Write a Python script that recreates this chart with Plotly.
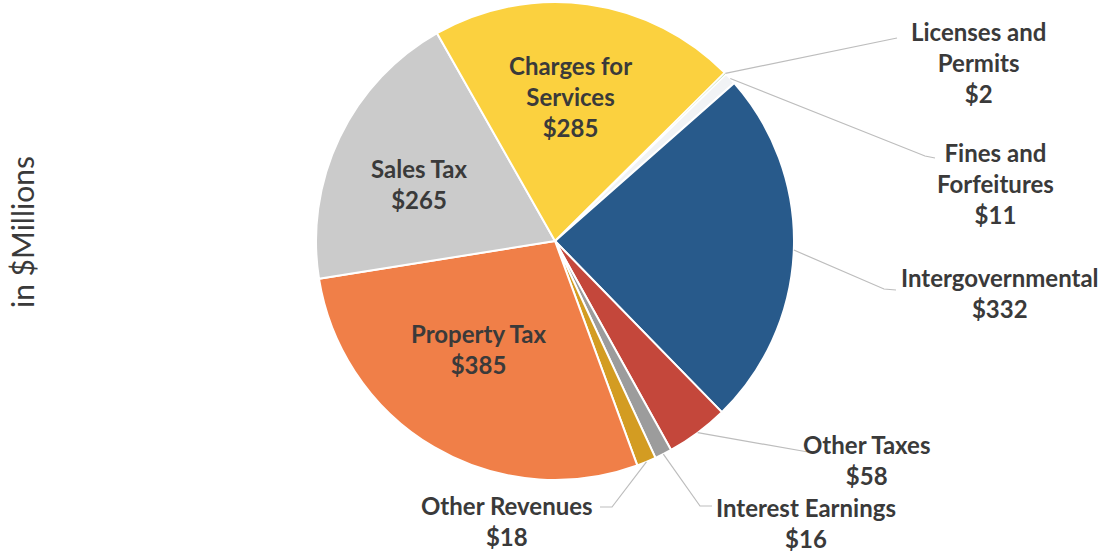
import math
import plotly.graph_objects as go

# Revenue sources, in $ millions, listed clockwise from the top-right
labels = ["Licenses and Permits", "Fines and Forfeitures", "Intergovernmental",
          "Other Taxes", "Interest Earnings", "Other Revenues",
          "Property Tax", "Sales Tax", "Charges for Services"]
values = [2, 11, 332, 58, 16, 18, 385, 265, 285]
label_lines = ["Licenses and<br>Permits", "Fines and<br>Forfeitures", "Intergovernmental",
               "Other Taxes", "Interest Earnings", "Other Revenues",
               "Property Tax", "Sales Tax", "Charges for<br>Services"]
colors = ["#6FB043", "#F1F3F5", "#285A8B", "#C4473B", "#9C9C9C",
          "#D39C22", "#F07F48", "#CBCBCB", "#FBD13F"]
border_widths = [1, 2, 2, 2, 2, 2, 2, 2, 2]

W, H = 1112, 552
CX, CY, R = 555, 241, 239          # pie centre and radius in pixels
ROTATION = 45.2                    # start angle of first slice, clockwise from 12 o'clock

# label block centres (px) and leader-line waypoints for outside labels
label_pos = {
    "Licenses and Permits": (978, 63),
    "Fines and Forfeitures": (995, 183),
    "Intergovernmental": (1000, 293),
    "Other Taxes": (866, 460),
    "Interest Earnings": (806, 523),
    "Other Revenues": (507, 521),
    "Property Tax": (478, 349),
    "Sales Tax": (419, 184),
    "Charges for Services": (570, 96),
}
leader_pts = {
    "Licenses and Permits": [(897, 38)],
    "Fines and Forfeitures": [(925, 156), (935, 158)],
    "Intergovernmental": [(884, 289), (896, 290)],
    "Other Taxes": [(808, 452)],
    "Interest Earnings": [(700, 506), (712, 506)],
    "Other Revenues": [(612, 507), (600, 507)],
}


def px(x, y):
    return x / W, 1 - y / H


fig = go.Figure(go.Pie(
    labels=labels,
    values=values,
    sort=False,
    direction="clockwise",
    rotation=ROTATION,
    marker=dict(colors=colors, line=dict(color="white", width=border_widths)),
    textinfo="none",
    hoverinfo="label+value",
    showlegend=False,
    domain=dict(x=[(CX - R) / W, (CX + R) / W], y=[1 - (CY + R) / H, 1 - (CY - R) / H]),
))

total = sum(values)
annotations = []
shapes = []
start = ROTATION
for name, text, v in zip(labels, label_lines, values):
    span = v / total * 360
    mid = math.radians(start + span / 2)
    start += span
    lx, ly = label_pos[name]
    ax, ay = px(lx, ly)
    annotations.append(dict(
        x=ax, y=ay, xref="paper", yref="paper", xanchor="center", yanchor="middle",
        text=f"{text}<br>${v:,}", showarrow=False, align="center",
        font=dict(family="Lato", size=24, color="#3A3A3A", weight="bold"),
    ))
    if name in leader_pts:
        sx = CX + R * math.sin(mid)
        sy = CY - R * math.cos(mid)
        pts = [(sx, sy)] + leader_pts[name]
        path = "M " + " L ".join(f"{px(x, y)[0]:.5f},{px(x, y)[1]:.5f}" for x, y in pts)
        shapes.append(dict(type="path", path=path, xref="paper", yref="paper",
                           line=dict(color="#BDBDBD", width=1.2)))

annotations.append(dict(
    x=px(22, 232)[0], y=px(22, 232)[1], xref="paper", yref="paper",
    xanchor="center", yanchor="middle", textangle=-90, showarrow=False,
    text="in $Millions", font=dict(family="Lato", size=30, color="#3A3A3A"),
))

fig.update_layout(
    width=W, height=H,
    margin=dict(l=0, r=0, t=0, b=0),
    paper_bgcolor="white", plot_bgcolor="white",
    annotations=annotations, shapes=shapes,
)

fig.write_html("out.html")
